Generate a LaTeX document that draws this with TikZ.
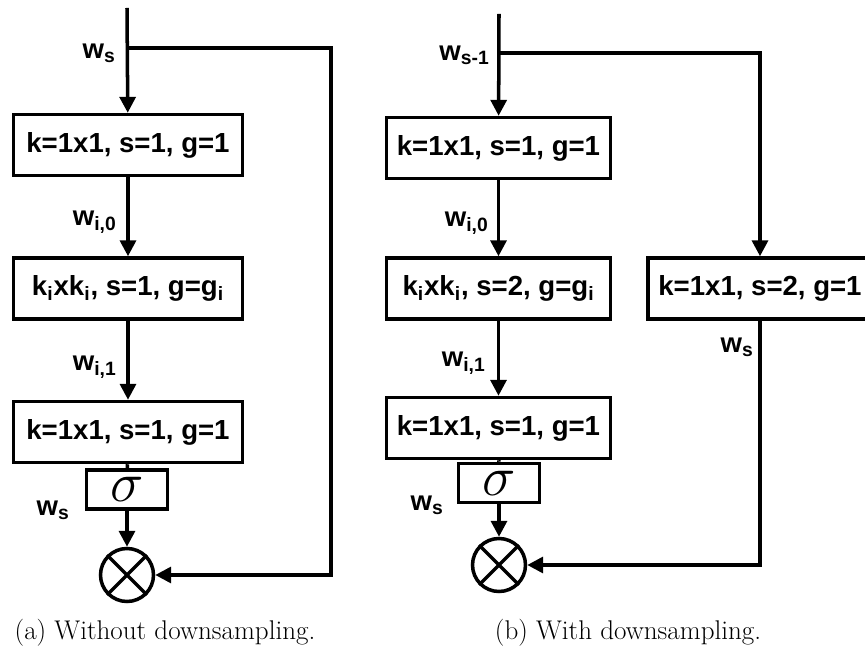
\RequirePackage{fix-cm}
\documentclass[tikz,border=0pt]{standalone}
\usepackage{fontspec}
\newfontfamily\helv{Liberation Sans}
\usetikzlibrary{arrows.meta}
\tikzset{
  wire/.style={line width=2pt},
  flow/.style={wire, -{Triangle[width=9pt,length=9pt]}},
  conv/.style={draw, wire, minimum width=4.58cm, minimum height=1.22cm, inner sep=0pt,
    font=\helv\bfseries\fontsize{15.7}{18}\selectfont},
  act/.style={draw, wire, minimum width=1.62cm, minimum height=0.78cm, inner sep=0pt,
    font=\fontsize{32}{32}\selectfont},
  mul/.style={draw, wire, circle, minimum size=1.06cm, inner sep=0pt},
  lbl/.style={anchor=east, inner sep=0pt, font=\helv\bfseries\fontsize{15.7}{18}\selectfont},
  capt/.style={inner sep=0pt, font=\fontsize{15.4}{18}\selectfont}
}
\begin{document}
\begin{tikzpicture}[x=0.02cm, y=-0.02cm]
\useasboundingbox (0,0) rectangle (865,651);

% (a) block without downsampling
\coordinate (ina) at (127,8);
\coordinate (spa) at (127,48);
\coordinate (skipa) at (331,48);
\node[conv] (a1) at (128,145) {k=1x1, s=1, g=1};
\node[conv] (a2) at (128,288.5) {k\textsubscript{i}xk\textsubscript{i}, s=1, g=g\textsubscript{i}};
\node[conv] (a3) at (128,432) {k=1x1, s=1, g=1};
\node[act] (sa) at (127,489.5) {$\sigma$};
\node[mul] (mula) at (127,575) {};
\draw[wire] (mula.45)--(mula.225) (mula.135)--(mula.315);

\draw[flow] (ina) -- (a1);
\draw[flow] (a1) -- (a2);
\draw[flow] (a2) -- (a3);
\draw[wire] (a3) -- (sa);
\draw[flow] (sa) -- (mula);
\draw[flow] (spa) -- (skipa) |- (mula);

\node[lbl] at (116,53) {w\textsubscript{s}};
\node[lbl] at (117,222) {w\textsubscript{i,0}};
\node[lbl] at (117,367) {w\textsubscript{i,1}};
\node[lbl] at (70,510) {w\textsubscript{s}};
\node[capt] at (165,633) {(a) Without downsampling.};

% (b) block with downsampling
\coordinate (inb) at (499,14);
\coordinate (spb) at (499,53);
\coordinate (skipb) at (760,53);
\node[conv, minimum width=4.48cm] (b1) at (498.5,148) {k=1x1, s=1, g=1};
\node[conv, minimum width=4.48cm] (b2) at (498.5,288.5) {k\textsubscript{i}xk\textsubscript{i}, s=2, g=g\textsubscript{i}};
\node[conv, minimum width=4.48cm] (dsb) at (760,288.5) {k=1x1, s=2, g=1};
\node[conv, minimum width=4.48cm] (b3) at (498.5,428) {k=1x1, s=1, g=1};
\node[act] (sb) at (499,483) {$\sigma$};
\node[mul] (mulb) at (499,565) {};
\draw[wire] (mulb.45)--(mulb.225) (mulb.135)--(mulb.315);

\draw[flow] (inb) -- (b1);
\draw[flow] (b1) -- (b2);
\draw[flow] (b2) -- (b3);
\draw[wire] (b3) -- (sb);
\draw[flow] (sb) -- (mulb);
\draw[flow] (spb) -- (skipb) -- (dsb);
\draw[flow] (dsb) |- (mulb);

\node[lbl] at (490,55) {w\textsubscript{s-1}};
\node[lbl] at (489,223) {w\textsubscript{i,0}};
\node[lbl] at (486,363) {w\textsubscript{i,1}};
\node[lbl] at (754,347) {w\textsubscript{s}};
\node[lbl] at (444,505) {w\textsubscript{s}};
\node[capt] at (628,633) {(b) With downsampling.};
\end{tikzpicture}
\end{document}
